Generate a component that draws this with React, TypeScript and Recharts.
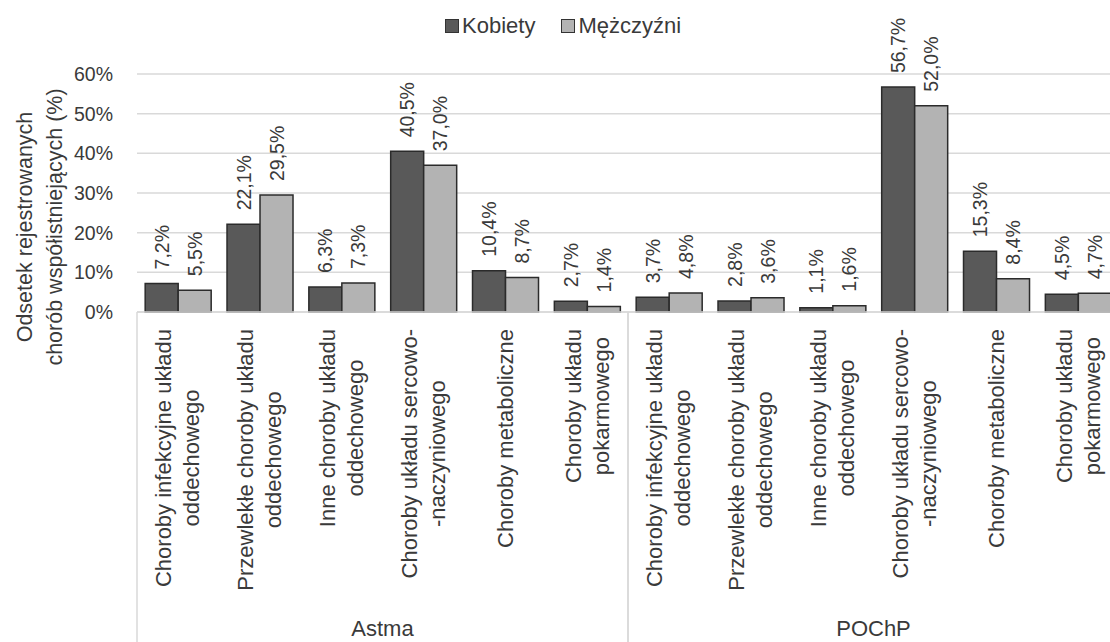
import React from 'react';
import { BarChart, Bar, XAxis, YAxis, CartesianGrid, Legend, LabelList } from 'recharts';

const FONT = '"Liberation Sans", Arial, sans-serif';
const TEXT = '#3a3a3a';
const GRID = '#d9d9d9';

const groups = ['Astma', 'POChP'];
const categories = [
  'Choroby infekcyjne układu\noddechowego',
  'Przewlekłe choroby układu\noddechowego',
  'Inne choroby układu\noddechowego',
  'Choroby układu sercowo-\n-naczyniowego',
  'Choroby metaboliczne',
  'Choroby układu\npokarmowego',
];
const kobiety = [7.2, 22.1, 6.3, 40.5, 10.4, 2.7, 3.7, 2.8, 1.1, 56.7, 15.3, 4.5];
const mezczyzni = [5.5, 29.5, 7.3, 37.0, 8.7, 1.4, 4.8, 3.6, 1.6, 52.0, 8.4, 4.7];
const yTicks = [0, 10, 20, 30, 40, 50, 60];
const seriesNames = ['Kobiety', 'Mężczyźni'];
const seriesColors = ['#595959', '#b3b3b3'];
const yTitle = ['Odsetek rejestrowanych', 'chorób współistniejących (%)'];

const data = groups.flatMap((g, gi) =>
  categories.map((c, ci) => {
    const i = gi * categories.length + ci;
    return { key: `${g}|${ci}`, group: g, category: c, kobiety: kobiety[i], mezczyzni: mezczyzni[i] };
  })
);

// chart geometry
const W = 1125;
const H = 642;
const MARGIN = { top: 74, right: 6, left: 0, bottom: 0 };
const Y_W = 137;
const X_H = 330;
const AXIS_Y = H - X_H;
const BAND = (W - MARGIN.left - MARGIN.right - Y_W) / data.length;
const LABEL_TOP = AXIS_Y + 17;
const CAT_SIZE = 22;
const LINE_H = 28;

const ctx = typeof document !== 'undefined' ? document.createElement('canvas').getContext('2d') : null;
const textWidth = (s: string, font: string) => {
  if (!ctx) return s.length * 10;
  ctx.font = font;
  return ctx.measureText(s).width;
};

const fmt = (v: number) => `${v.toFixed(1).replace('.', ',')}%`;

const CategoryTick = (props: any) => {
  const { x, payload } = props;
  const index = props.index ?? payload.index;
  const row = data[index];
  const lines = row.category.split('\n');
  const longest = Math.max(...lines.map((l: string) => textWidth(l, `${CAT_SIZE}px Liberation Sans`)));
  const cy = LABEL_TOP + longest / 2;
  const pos = index % categories.length;
  return (
    <g>
      {lines.map((l: string, k: number) => {
        const lx = x + (k - (lines.length - 1) / 2) * LINE_H;
        return (
          <text
            key={k}
            x={lx}
            y={cy}
            transform={`rotate(-90 ${lx} ${cy})`}
            textAnchor="middle"
            dominantBaseline="central"
            fontFamily={FONT}
            fontSize={CAT_SIZE}
            fill={TEXT}
          >
            {l}
          </text>
        );
      })}
      {pos === 0 && <line x1={x - BAND / 2} x2={x - BAND / 2} y1={AXIS_Y} y2={H} stroke={GRID} strokeWidth={1.5} />}
      {pos === categories.length - 1 && (
        <line x1={x + BAND / 2} x2={x + BAND / 2} y1={AXIS_Y} y2={H} stroke={GRID} strokeWidth={1.5} />
      )}
      {pos === categories.length / 2 - 1 && (
        <text
          x={x + BAND / 2}
          y={628}
          textAnchor="middle"
          dominantBaseline="central"
          fontFamily={FONT}
          fontSize={CAT_SIZE}
          fill={TEXT}
        >
          {row.group}
        </text>
      )}
    </g>
  );
};

const BarValue = (props: any) => {
  const { x, y, width, value } = props;
  const cx = x + width / 2;
  const by = y - 14;
  return (
    <text
      x={cx}
      y={by}
      transform={`rotate(-90 ${cx} ${by})`}
      textAnchor="start"
      dominantBaseline="central"
      fontFamily={FONT}
      fontSize={19.5}
      fill={TEXT}
    >
      {fmt(value)}
    </text>
  );
};

const YTitle = () => {
  const cy = 227;
  const xs = [25, 55];
  return (
    <g>
      {yTitle.map((l, k) => (
        <text
          key={k}
          x={xs[k]}
          y={cy}
          transform={`rotate(-90 ${xs[k]} ${cy})`}
          textAnchor="middle"
          dominantBaseline="central"
          fontFamily={FONT}
          fontSize={21.5}
          fill={TEXT}
        >
          {l}
        </text>
      ))}
    </g>
  );
};

const LegendContent = () => (
  <div style={{ display: 'flex', alignItems: 'center', fontFamily: FONT, fontSize: 22, color: TEXT, whiteSpace: 'nowrap' }}>
    {seriesNames.map((n, i) => (
      <span key={n} style={{ display: 'flex', alignItems: 'center', marginRight: 26 }}>
        <span
          style={{
            display: 'inline-block',
            width: 12,
            height: 12,
            background: seriesColors[i],
            border: '1.5px solid #333',
            marginRight: 3,
          }}
        />
        {n}
      </span>
    ))}
  </div>
);

export default function App() {
  return (
    <div style={{ position: 'absolute', left: 0, top: 0, width: 1110, height: 642, overflow: 'hidden', background: '#fff' }}>
      <BarChart width={W} height={H} data={data} margin={MARGIN} barCategoryGap="10%" barGap={0}>
        <CartesianGrid vertical={false} stroke={GRID} strokeWidth={1.5} />
        <XAxis
          dataKey="key"
          height={X_H}
          interval={0}
          tickLine={false}
          axisLine={{ stroke: GRID, strokeWidth: 1.5 }}
          tick={<CategoryTick />}
        />
        <YAxis
          domain={[0, 60]}
          ticks={yTicks}
          width={Y_W}
          axisLine={false}
          tickLine={false}
          tickSize={0}
          tickMargin={24}
          tickFormatter={(v: number) => `${v}%`}
          tick={{ fill: TEXT, fontSize: 19.5, fontFamily: FONT }}
          label={<YTitle />}
        />
        <Legend
          layout="horizontal"
          verticalAlign="middle"
          align="center"
          wrapperStyle={{ top: 13, left: 445, width: 320 }}
          content={<LegendContent />}
        />
        <Bar dataKey="kobiety" name={seriesNames[0]} fill={seriesColors[0]} stroke="#2b2b2b" strokeWidth={1.5} isAnimationActive={false}>
          <LabelList dataKey="kobiety" content={<BarValue />} />
        </Bar>
        <Bar dataKey="mezczyzni" name={seriesNames[1]} fill={seriesColors[1]} stroke="#2b2b2b" strokeWidth={1.5} isAnimationActive={false}>
          <LabelList dataKey="mezczyzni" content={<BarValue />} />
        </Bar>
      </BarChart>
    </div>
  );
}
